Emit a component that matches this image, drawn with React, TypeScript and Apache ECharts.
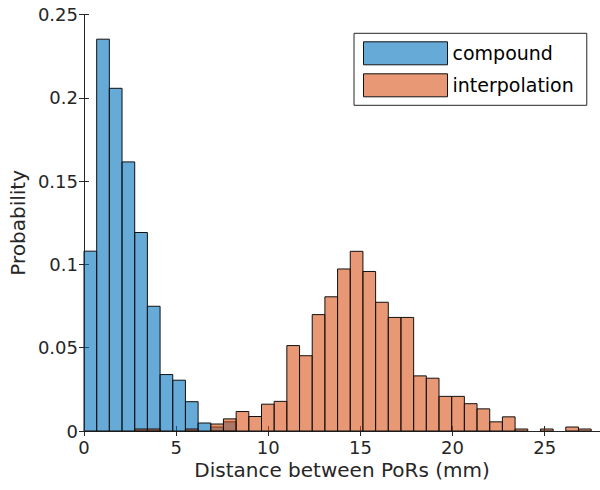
import React, { useEffect, useRef } from "react";
import * as echarts from "echarts";

// Histogram bin width (mm) and bin count
const BIN_WIDTH = 0.688;
const BIN_COUNT = 40;

// Probability per bin
const compound = [
  0.108, 0.2353, 0.2058, 0.1616, 0.1192, 0.0749, 0.0339, 0.0305, 0.0176, 0.0048,
  0.0024, 0.0055, 0, 0, 0, 0, 0, 0, 0, 0,
  0, 0, 0, 0, 0, 0, 0, 0, 0, 0,
  0, 0, 0, 0, 0, 0, 0, 0, 0, 0,
];
const interpolation = [
  0, 0, 0, 0, 0.0012, 0.0012, 0, 0, 0.0012, 0,
  0.0042, 0.0073, 0.0117, 0.0087, 0.0161, 0.0178, 0.0513, 0.0452, 0.0699, 0.0806,
  0.0973, 0.1079, 0.0958, 0.0773, 0.0682, 0.0682, 0.0331, 0.0317, 0.0208, 0.0208,
  0.0164, 0.0133, 0.0055, 0.0085, 0.0012, 0, 0.0012, 0, 0.0024, 0.0012,
];
const seriesNames = ["compound", "interpolation"];
const xTicks = [0, 5, 10, 15, 20, 25];
const yTicks = [0, 0.05, 0.1, 0.15, 0.2, 0.25];

const FONT = "DejaVu Sans";
const TXT = "#262626";
const BLUE = "rgba(0,114,189,0.6)";
const ORANGE = "rgba(217,83,25,0.6)";

function toBins(values: number[]) {
  const out: number[][] = [];
  for (let i = 0; i < BIN_COUNT; i++) {
    out.push([i * BIN_WIDTH, (i + 1) * BIN_WIDTH, values[i]]);
  }
  return out;
}

const renderBar = (color: string) => (params: any, api: any) => {
  const s = api.value(0);
  const e = api.value(1);
  const v = api.value(2);
  if (!(v > 0)) return null;
  const p0 = api.coord([s, v]);
  const p1 = api.coord([e, 0]);
  return {
    type: "rect",
    shape: { x: p0[0], y: p0[1], width: p1[0] - p0[0], height: p1[1] - p0[1] },
    style: { fill: color, stroke: "#111", lineWidth: 1 },
  };
};

export default function App() {
  const ref = useRef<HTMLDivElement>(null);
  useEffect(() => {
    if (!ref.current) return;
    const chart = echarts.init(ref.current, null, { renderer: "svg" });
    const xMin = xTicks[0];
    const xMax = 28;
    const yMin = yTicks[0];
    const yMax = yTicks[yTicks.length - 1];
    const xInterval = xTicks[1] - xTicks[0];
    const yInterval = yTicks[1] - yTicks[0];
    const axisLine = { show: true, lineStyle: { color: TXT, width: 1 } };
    const fmtX = (v: number) => (xTicks.includes(v) ? String(v) : "");
    chart.setOption({
      animation: false,
      backgroundColor: "#ffffff",
      textStyle: { fontFamily: FONT },
      grid: { left: 82.5, top: 14.7, bottom: 59, right: -7.2, containLabel: false },
      legend: {
        show: true,
        orient: "vertical",
        left: 354,
        top: 33.3,
        padding: [8, 13, 8, 9],
        itemWidth: 84,
        itemHeight: 23,
        itemGap: 8,
        icon: "rect",
        backgroundColor: "#ffffff",
        borderColor: TXT,
        borderWidth: 1,
        textStyle: { fontFamily: FONT, fontSize: 19, color: "#000" },
        data: [
          { name: seriesNames[0], itemStyle: { color: BLUE, borderColor: "#111", borderWidth: 1 } },
          { name: seriesNames[1], itemStyle: { color: ORANGE, borderColor: "#111", borderWidth: 1 } },
        ],
      },
      xAxis: [
        {
          type: "value",
          min: xMin,
          max: xMax,
          interval: xInterval,
          position: "bottom",
          name: "Distance between PoRs (mm)",
          nameLocation: "middle",
          nameGap: 29,
          nameMoveOverlap: false,
          nameTextStyle: { fontFamily: FONT, fontSize: 20, color: TXT },
          axisLine,
          axisTick: { show: true, inside: true, length: 5, lineStyle: { color: TXT } },
          axisLabel: { show: true, margin: 7, fontFamily: FONT, fontSize: 18, color: TXT, formatter: fmtX, showMaxLabel: false },
          splitLine: { show: false },
        },
        {
          type: "value",
          min: xMin,
          max: xMax,
          interval: xInterval,
          position: "top",
          axisLine,
          axisTick: { show: true, inside: true, length: 5, lineStyle: { color: TXT } },
          axisLabel: { show: false },
          splitLine: { show: false },
        },
      ],
      yAxis: [
        {
          type: "value",
          min: yMin,
          max: yMax,
          interval: yInterval,
          position: "left",
          name: "Probability",
          nameLocation: "middle",
          nameGap: 56,
          nameMoveOverlap: false,
          nameTextStyle: { fontFamily: FONT, fontSize: 20, color: TXT },
          axisLine,
          axisTick: { show: true, inside: true, length: 5, lineStyle: { color: TXT } },
          axisLabel: { show: true, margin: 6, fontFamily: FONT, fontSize: 18, color: TXT },
          splitLine: { show: false },
        },
        {
          type: "value",
          min: yMin,
          max: yMax,
          interval: yInterval,
          position: "right",
          axisLine,
          axisTick: { show: true, inside: true, length: 5, lineStyle: { color: TXT } },
          axisLabel: { show: false },
          splitLine: { show: false },
        },
      ],
      series: [
        {
          name: seriesNames[0],
          type: "custom",
          xAxisIndex: 0,
          yAxisIndex: 0,
          itemStyle: { color: BLUE },
          encode: { x: [0, 1], y: 2 },
          renderItem: renderBar(BLUE),
          data: toBins(compound),
          z: 2,
        },
        {
          name: seriesNames[1],
          type: "custom",
          xAxisIndex: 0,
          yAxisIndex: 0,
          itemStyle: { color: ORANGE },
          encode: { x: [0, 1], y: 2 },
          renderItem: renderBar(ORANGE),
          data: toBins(interpolation),
          z: 3,
        },
      ],
    });
    return () => chart.dispose();
  }, []);
  return (
    <div
      ref={ref}
      style={{ position: "fixed", left: 0, top: 0, width: 600, height: 490, background: "#fff" }}
    />
  );
}
